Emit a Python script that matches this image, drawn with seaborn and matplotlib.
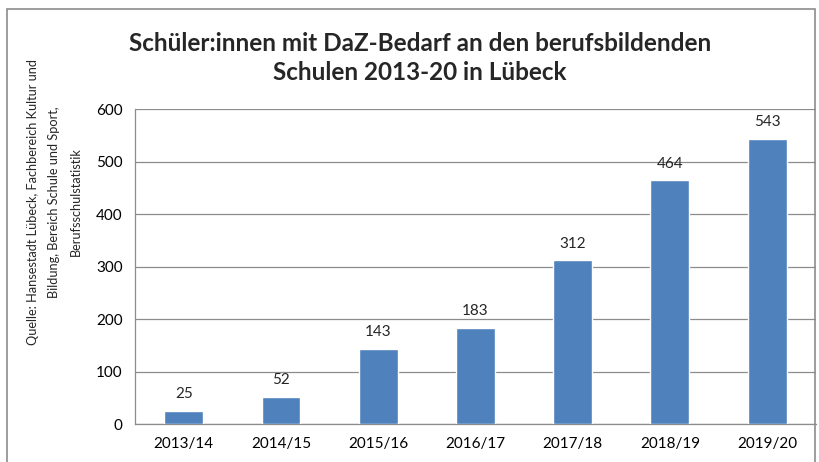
import matplotlib
matplotlib.use("Agg")
import matplotlib.pyplot as plt
import seaborn as sns
import pandas as pd
from matplotlib.patches import Rectangle

# Schuljahre und Anzahl Schüler:innen mit DaZ-Bedarf
YEARS = ["2013/14", "2014/15", "2015/16", "2016/17", "2017/18", "2018/19", "2019/20"]
COUNTS = [25, 52, 143, 183, 312, 464, 543]
Y_TICKS = [0, 100, 200, 300, 400, 500, 600]

TITLE = "Schüler:innen mit DaZ-Bedarf an den berufsbildenden\nSchulen 2013-20 in Lübeck"
Y_LABEL_LINES = ["Quelle: Hansestadt Lübeck, Fachbereich Kultur und",
                 "Bildung, Bereich Schule und Sport,",
                 "Berufsschulstatistik"]

BAR_COLOR = "#4F81BD"
GRID_COLOR = "#8C8C8C"

df = pd.DataFrame({"Jahr": YEARS, "Anzahl": COUNTS})

sns.set_theme(style="white")
plt.rcParams["font.family"] = ["Lato", "DejaVu Sans"]

fig = plt.figure(figsize=(8.19, 4.62), dpi=100)
ax = fig.add_axes([0.165, 0.082, 0.831, 0.682])

sns.barplot(data=df, x="Jahr", y="Anzahl", color=BAR_COLOR, width=0.4,
            saturation=1, ax=ax, zorder=3)

ax.set_ylim(0, 600)
ax.set_xlim(-0.5, len(YEARS) - 0.5)
ax.set_yticks(Y_TICKS)
ax.yaxis.grid(True, color=GRID_COLOR, linewidth=0.9)
ax.set_axisbelow(True)
for side in ["top", "right"]:
    ax.spines[side].set_visible(False)
for side in ["left", "bottom"]:
    ax.spines[side].set_color(GRID_COLOR)
    ax.spines[side].set_linewidth(0.9)
ax.tick_params(axis="both", labelsize=11, colors="black", length=0, pad=9)
ax.set_xlabel("")
ax.set_ylabel("")

# Datenbeschriftungen
for i, v in enumerate(COUNTS):
    ax.annotate(str(v), (i, v), xytext=(0, 7), textcoords="offset points",
                ha="center", va="bottom", fontsize=11)

fig.text(0.513, 0.875, TITLE, ha="center", va="center", fontsize=17.5,
         fontweight="bold", linespacing=1.3)

# Quellenangabe als y-Beschriftung, Zeile für Zeile zentriert
for k, line in enumerate(Y_LABEL_LINES):
    fig.text(0.040 + k * 0.0265, 0.563, line, ha="center", va="center",
             rotation=90, fontsize=9.2)

# Rahmen um das Diagramm
fig.patches.append(Rectangle((0.009, -0.01), 0.986, 0.99, transform=fig.transFigure,
                             fill=False, edgecolor="#8C8C8C", linewidth=1.2))

fig.savefig("out.png", dpi=100)
